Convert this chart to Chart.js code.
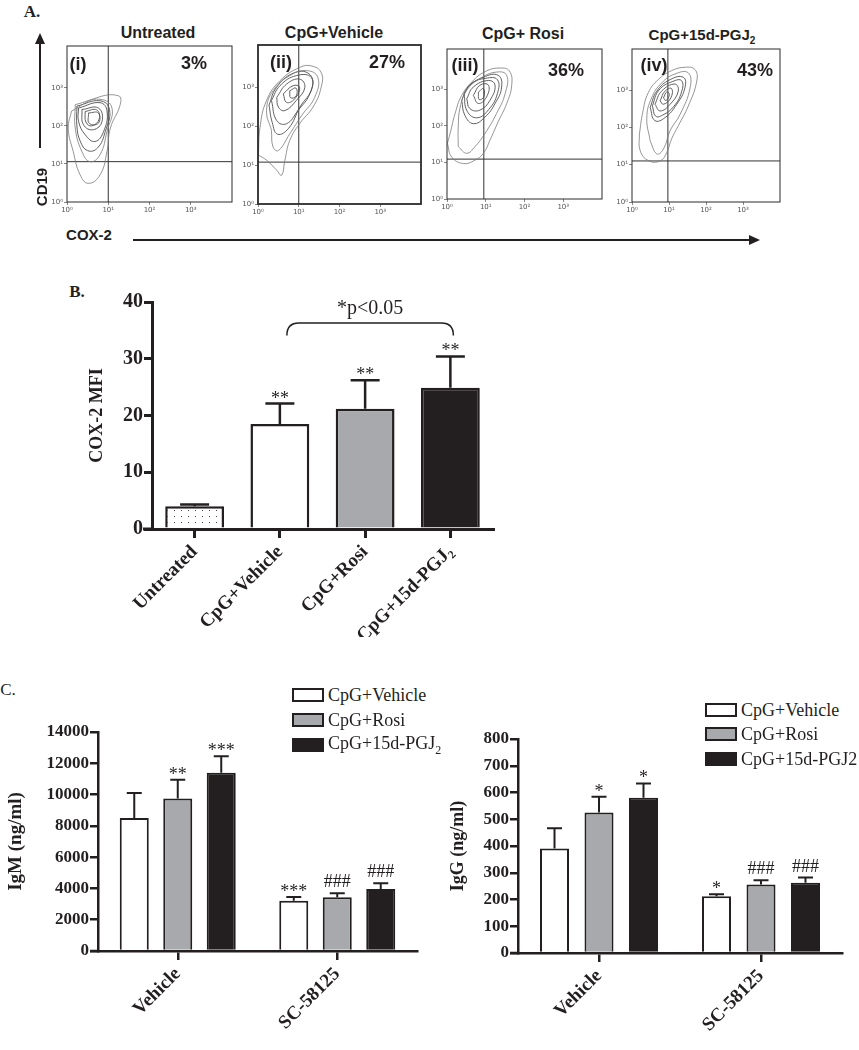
<!DOCTYPE html>
<html lang="en">
<head>
<meta charset="UTF-8">
<title>COX-2 expression and antibody production</title>
<script src="https://cdn.jsdelivr.net/npm/chart.js"></script>
<style>
    body { margin: 0; width: 859px; height: 1050px; position: relative; background: #fff; overflow: hidden; }
    canvas { position: absolute; }
    .t { position: absolute; transform: translate(-50%, -50%); white-space: nowrap; line-height: 1; color: #231f20; }
    .sans { font-family: "Liberation Sans", Arial, sans-serif; font-weight: bold; }
    .serif { font-family: "Liberation Serif", "Times New Roman", serif; }
    .key { position: absolute; width: 28px; height: 10px; border: 2px solid #231f20; }
    .keytext { position: absolute; font-family: "Liberation Serif", serif; font-size: 18px; line-height: 1; transform: translateY(-50%); color: #231f20; white-space: nowrap; }
    .arrow-v { position: absolute; left: 39px; top: 42px; width: 2px; height: 106px; background: #231f20; }
    .head-up { position: absolute; left: 35px; top: 33px; border-left: 5px solid transparent; border-right: 5px solid transparent; border-bottom: 11px solid #231f20; }
    .arrow-h { position: absolute; left: 133px; top: 239px; width: 618px; height: 2px; background: #231f20; }
    .head-right { position: absolute; left: 749px; top: 235px; border-top: 5px solid transparent; border-bottom: 5px solid transparent; border-left: 11px solid #231f20; }
</style>
</head>
<body>

<!-- panel A -->
<div class="t serif" style="left:32px;top:11px;font-size:17px;font-weight:bold;">A.</div>
<div class="t sans" style="left:158px;top:33px;font-size:16px;">Untreated</div>
<div class="t sans" style="left:334px;top:33px;font-size:16px;">CpG+Vehicle</div>
<div class="t sans" style="left:523px;top:34px;font-size:16px;">CpG+ Rosi</div>
<div class="t sans" style="left:702px;top:36px;font-size:15px;">CpG+15d-PGJ<sub style="font-size:10px;">2</sub></div>

<canvas id="flow1" width="194" height="180" style="left:42px;top:40px;"></canvas>
<canvas id="flow2" width="192" height="183" style="left:233px;top:39px;"></canvas>
<canvas id="flow3" width="184" height="174" style="left:422px;top:43px;"></canvas>
<canvas id="flow4" width="177" height="177" style="left:607px;top:43px;"></canvas>

<div class="t sans" style="left:78px;top:64px;font-size:18px;">(i)</div>
<div class="t sans" style="left:194px;top:63px;font-size:18px;">3%</div>
<div class="t sans" style="left:281px;top:62px;font-size:18px;">(ii)</div>
<div class="t sans" style="left:387px;top:62px;font-size:18px;">27%</div>
<div class="t sans" style="left:465px;top:65px;font-size:18px;">(iii)</div>
<div class="t sans" style="left:566px;top:70px;font-size:18px;">36%</div>
<div class="t sans" style="left:654px;top:65px;font-size:18px;">(iv)</div>
<div class="t sans" style="left:755px;top:70px;font-size:18px;">43%</div>

<div class="arrow-v"></div><div class="head-up"></div>
<div class="t sans" style="left:41px;top:187px;font-size:15px;transform:translate(-50%,-50%) rotate(-90deg);">CD19</div>
<div class="t sans" style="left:89px;top:234px;font-size:15px;">COX-2</div>
<div class="arrow-h"></div><div class="head-right"></div>

<!-- panel B -->
<div class="t serif" style="left:77px;top:291px;font-size:17px;font-weight:bold;">B.</div>
<canvas id="mfi" width="411" height="352" style="left:87px;top:285px;"></canvas>

<!-- panel C -->
<div class="t serif" style="left:8px;top:689px;font-size:17px;">C.</div>
<canvas id="igm" width="417" height="311" style="left:5px;top:720px;"></canvas>
<canvas id="igg" width="399" height="306" style="left:448px;top:727px;"></canvas>

<div class="key" style="left:292px;top:688px;background:#fff;"></div>
<div class="keytext" style="left:328px;top:695px;">CpG+Vehicle</div>
<div class="key" style="left:292px;top:713px;background:#a7a9ac;"></div>
<div class="keytext" style="left:328px;top:720px;">CpG+Rosi</div>
<div class="key" style="left:292px;top:738px;background:#231f20;"></div>
<div class="keytext" style="left:328px;top:745px;">CpG+15d-PGJ<sub style="font-size:12px;">2</sub></div>

<div class="key" style="left:705px;top:703px;background:#fff;"></div>
<div class="keytext" style="left:741px;top:710px;">CpG+Vehicle</div>
<div class="key" style="left:705px;top:727px;background:#a7a9ac;"></div>
<div class="keytext" style="left:741px;top:734px;">CpG+Rosi</div>
<div class="key" style="left:705px;top:752px;background:#231f20;"></div>
<div class="keytext" style="left:741px;top:759px;">CpG+15d-PGJ2</div>

<script>
    // ---- flow cytometry (log10 decades: x = COX-2, y = CD19) ----
    const decadeTicks = [0, 1, 2, 3];
    const flowXMax = 4;
    const flowYMax = 4.1;
    const gateX = [1.0, 1.0, 0.95, 0.97];
    const gateY = [1.06, 1.08, 1.09, 1.1];

    const contours1 = [
        [[0.11,2.39],[0.72,2.74],[1.25,2.79],[1.29,2.56],[1.05,1.94],[0.97,1.33],[0.80,0.71],[0.52,0.49],[0.32,0.71],[0.15,1.33],[0.03,1.94]],
        [[0.20,2.56],[0.80,2.70],[1.09,2.47],[0.97,1.86],[0.80,1.24],[0.56,1.06],[0.36,1.33],[0.20,1.94]],
        [[0.24,2.52],[0.80,2.66],[1.03,2.43],[0.93,1.86],[0.74,1.42],[0.50,1.35],[0.32,1.60],[0.24,2.00]],
        [[0.28,2.47],[0.80,2.61],[0.97,2.39],[0.89,1.86],[0.68,1.59],[0.44,1.77],[0.28,2.12]],
        [[0.36,2.43],[0.76,2.47],[0.85,2.12],[0.64,1.90],[0.40,2.03]],
        [[0.44,2.38],[0.72,2.42],[0.78,2.18],[0.60,2.00],[0.46,2.10]],
        [[0.52,2.34],[0.76,2.34],[0.76,2.07],[0.54,2.07]]
    ];
    const contours2 = [
        [[0.01,1.26],[0.05,1.98],[0.21,2.67],[0.54,3.18],[1.02,3.52],[1.31,3.56],[1.55,3.39],[1.55,3.01],[1.35,2.50],[1.02,2.07],[0.78,1.64],[0.66,1.13],[0.58,0.74],[0.46,0.87],[0.21,1.13]],
        [[0.33,1.90],[0.21,2.41],[0.37,2.92],[0.78,3.31],[1.19,3.44],[1.47,3.26],[1.39,2.75],[1.07,2.28],[0.78,1.81],[0.50,1.38],[0.37,1.47]],
        [[0.27,2.55],[0.45,3.00],[0.86,3.37],[1.25,3.36],[1.33,3.00],[1.03,2.50],[0.75,1.95],[0.48,1.80],[0.35,2.10]],
        [[0.33,2.67],[0.54,3.05],[0.94,3.31],[1.31,3.26],[1.27,2.84],[0.98,2.41],[0.70,2.07],[0.46,2.15]],
        [[0.46,2.75],[0.70,3.09],[1.02,3.22],[1.15,3.01],[0.94,2.67],[0.66,2.41],[0.50,2.50]],
        [[0.62,2.84],[0.86,3.05],[1.02,3.01],[0.90,2.71],[0.70,2.62]],
        [[0.78,2.92],[0.93,2.99],[0.94,2.79],[0.80,2.74]]
    ];
    const contours3 = [
        [[0.01,1.52],[0.12,1.15],[0.42,0.97],[0.72,1.06],[0.94,1.25],[1.11,1.61],[1.32,2.11],[1.54,2.61],[1.67,3.11],[1.61,3.50],[1.37,3.58],[1.02,3.50],[0.68,3.24],[0.38,2.83],[0.21,2.34],[0.08,1.79]],
        [[0.29,1.43],[0.51,1.25],[0.72,1.43],[0.98,1.79],[1.28,2.34],[1.50,2.88],[1.54,3.38],[1.28,3.47],[0.85,3.29],[0.51,2.97],[0.34,2.51],[0.29,1.97]],
        [[0.38,2.70],[0.55,3.06],[0.94,3.33],[1.32,3.38],[1.41,3.06],[1.24,2.61],[0.98,2.24],[0.68,2.06],[0.46,2.29]],
        [[0.44,2.88],[0.62,3.15],[1.00,3.30],[1.30,3.26],[1.30,2.88],[1.08,2.45],[0.78,2.22],[0.52,2.40]],
        [[0.51,2.74],[0.68,3.06],[1.07,3.24],[1.24,3.11],[1.11,2.70],[0.85,2.43],[0.59,2.47]],
        [[0.68,2.83],[0.85,3.11],[1.07,3.11],[1.02,2.79],[0.81,2.61]],
        [[0.81,2.92],[0.94,3.02],[0.95,2.79],[0.83,2.72]]
    ];
    const contours4 = [
        [[0.20,1.82],[0.22,1.38],[0.44,1.11],[0.76,1.10],[0.94,1.33],[1.07,1.69],[1.25,2.04],[1.52,2.57],[1.75,3.24],[1.70,3.55],[1.43,3.61],[1.07,3.52],[0.71,3.28],[0.44,2.93],[0.29,2.40]],
        [[0.49,1.64],[0.67,1.29],[0.85,1.42],[1.03,1.91],[1.30,2.35],[1.57,3.06],[1.52,3.46],[1.16,3.43],[0.80,3.19],[0.53,2.79],[0.40,2.26]],
        [[0.49,2.53],[0.67,2.97],[1.03,3.28],[1.39,3.34],[1.43,3.06],[1.21,2.62],[0.89,2.26],[0.62,2.18]],
        [[0.55,2.58],[0.73,3.00],[1.10,3.23],[1.34,3.25],[1.34,2.95],[1.12,2.55],[0.83,2.33],[0.64,2.30]],
        [[0.62,2.62],[0.80,2.97],[1.16,3.16],[1.25,2.97],[1.03,2.62],[0.76,2.44]],
        [[0.76,2.71],[0.89,2.97],[1.07,3.04],[1.05,2.79],[0.85,2.62]],
        [[0.85,2.79],[0.94,2.95],[1.01,2.88],[0.92,2.72]]
    ];

    // ---- panel B: COX-2 MFI ----
    const mfiLabels = ['Untreated', 'CpG+Vehicle', 'CpG+Rosi', 'CpG+15d-PGJ\u2082'];
    const mfiMean = [4.0, 18.5, 21.2, 24.9];
    const mfiErrTop = [4.3, 22.1, 26.2, 30.4];
    const mfiMarks = ['', '**', '**', '**'];
    const bracketSpan = [1, 3];
    const bracketTop = 36.3;
    const bracketFoot = 34.1;
    const bracketLabelAt = 38.8;
    const bracketLabel = '*p<0.05';

    // ---- panel C: IgM / IgG ----
    const igGroups = ['Vehicle', 'SC-58125'];
    const seriesNames = ['CpG+Vehicle', 'CpG+Rosi', 'CpG+15d-PGJ2'];
    const igmVehicle = [8500, 3220];
    const igmVehicleErr = [10100, 3450];
    const igmRosi = [9750, 3430];
    const igmRosiErr = [10950, 3690];
    const igmPgj = [11400, 3960];
    const igmPgjErr = [12450, 4330];
    const igmMarks = [['', '***'], ['**', '###'], ['***', '###']];
    const iggVehicle = [391, 212];
    const iggVehicleErr = [466, 220];
    const iggRosi = [525, 256];
    const iggRosiErr = [584, 272];
    const iggPgj = [580, 263];
    const iggPgjErr = [634, 282];
    const iggMarks = [['', '*'], ['*', '###'], ['*', '###']];

    const ink = '#231f20';
    const grey = '#a7a9ac';
    const serif = '"Liberation Serif", "Times New Roman", serif';
    const sup = ['\u2070', '\u00b9', '\u00b2', '\u00b3'];

    Chart.defaults.animation = false;
    Chart.defaults.plugins.legend.display = false;
    Chart.defaults.plugins.tooltip.enabled = false;

    const frame = {
        id: 'frame',
        afterDraw(chart, args, opts) {
            const a = chart.chartArea, ctx = chart.ctx;
            ctx.save();
            ctx.strokeStyle = '#2b2b2b';
            ctx.lineWidth = opts.width;
            ctx.strokeRect(a.left, a.top, a.right - a.left, a.bottom - a.top);
            ctx.restore();
        }
    };

    function flowPlot(id, contours, gx, gy, frameWidth) {
        const datasets = contours.map((c, i) => ({
            data: c.concat([c[0]]).map(p => ({ x: p[0], y: p[1] })),
            showLine: true,
            tension: 0.45,
            pointRadius: 0,
            borderWidth: i < 2 ? 0.8 : 0.9,
            borderColor: i < 2 ? '#7a7a7a' : '#505050'
        }));
        datasets.push({ data: [{ x: gx, y: 0 }, { x: gx, y: flowYMax }], showLine: true, pointRadius: 0, borderColor: '#333', borderWidth: 1 });
        datasets.push({ data: [{ x: 0, y: gy }, { x: flowXMax, y: gy }], showLine: true, pointRadius: 0, borderColor: '#333', borderWidth: 1 });

        const axis = (fit) => ({
            min: 0,
            afterBuildTicks(s) { s.ticks = decadeTicks.map(v => ({ value: v })); },
            ticks: {
                callback: v => '10' + sup[v],
                font: { family: '"DejaVu Sans", "Liberation Sans"', size: 7 },
                color: '#555',
                padding: 1,
                maxRotation: 0
            },
            grid: { drawOnChartArea: false, tickLength: 3, color: '#888' },
            border: { display: false },
            afterFit: fit
        });

        new Chart(document.getElementById(id), {
            type: 'scatter',
            data: { datasets },
            plugins: [frame],
            options: {
                responsive: false,
                devicePixelRatio: 1,
                layout: { padding: { top: 6, right: 4 } },
                plugins: { frame: { width: frameWidth } },
                scales: {
                    x: Object.assign(axis(s => { s.height = 18; }), { max: flowXMax }),
                    y: Object.assign(axis(s => { s.width = 25; }), { max: flowYMax })
                }
            }
        });
    }

    flowPlot('flow1', contours1, gateX[0], gateY[0], 1);
    flowPlot('flow2', contours2, gateX[1], gateY[1], 1.8);
    flowPlot('flow3', contours3, gateX[2], gateY[2], 1);
    flowPlot('flow4', contours4, gateX[3], gateY[3], 1);

    // error bars and significance marks above each bar
    const errorBars = {
        id: 'errorBars',
        afterDatasetsDraw(chart, args, o) {
            const ctx = chart.ctx, y = chart.scales.y;
            chart.data.datasets.forEach((ds, d) => {
                chart.getDatasetMeta(d).data.forEach((bar, i) => {
                    const top = y.getPixelForValue(ds.errTop[i]);
                    ctx.save();
                    ctx.strokeStyle = ink;
                    ctx.lineWidth = o.width;
                    ctx.beginPath();
                    ctx.moveTo(bar.x, bar.y);
                    ctx.lineTo(bar.x, top);
                    ctx.moveTo(bar.x - o.cap / 2, top);
                    ctx.lineTo(bar.x + o.cap / 2, top);
                    ctx.stroke();
                    const m = ds.marks[i];
                    if (m) {
                        ctx.fillStyle = ink;
                        ctx.font = o.font;
                        ctx.textAlign = 'center';
                        ctx.textBaseline = 'alphabetic';
                        ctx.fillText(m, bar.x, top - (m[0] === '#' ? o.hashGap : o.starGap));
                    }
                    ctx.restore();
                });
            });
        }
    };

    // short piece of x axis sticking out left of the y axis
    const axisStub = {
        id: 'axisStub',
        afterDraw(chart, args, o) {
            const a = chart.chartArea, ctx = chart.ctx;
            ctx.save();
            ctx.strokeStyle = ink;
            ctx.lineWidth = o.width;
            ctx.beginPath();
            ctx.moveTo(a.left - o.len, a.bottom);
            ctx.lineTo(a.left, a.bottom);
            ctx.stroke();
            ctx.restore();
        }
    };

    const bracket = {
        id: 'bracket',
        afterDraw(chart) {
            const meta = chart.getDatasetMeta(0), y = chart.scales.y, ctx = chart.ctx;
            const x1 = meta.data[bracketSpan[0]].x + 7;
            const x2 = meta.data[bracketSpan[1]].x + 3;
            const yt = y.getPixelForValue(bracketTop);
            const yb = y.getPixelForValue(bracketFoot);
            ctx.save();
            ctx.strokeStyle = ink;
            ctx.lineWidth = 1.5;
            ctx.beginPath();
            ctx.moveTo(x1, yb);
            ctx.quadraticCurveTo(x1, yt, x1 + 12, yt);
            ctx.lineTo(x2 - 12, yt);
            ctx.quadraticCurveTo(x2, yt, x2, yb);
            ctx.stroke();
            ctx.font = '20px ' + serif;
            ctx.fillStyle = ink;
            ctx.textAlign = 'center';
            ctx.textBaseline = 'middle';
            ctx.fillText(bracketLabel, (x1 + x2) / 2, y.getPixelForValue(bracketLabelAt));
            ctx.restore();
        }
    };

    function dotPattern() {
        const c = document.createElement('canvas');
        c.width = 7;
        c.height = 6;
        const g = c.getContext('2d');
        g.fillStyle = '#fff';
        g.fillRect(0, 0, 7, 6);
        g.fillStyle = '#444';
        g.fillRect(3, 3, 1, 1);
        return g.createPattern(c, 'repeat');
    }

    function barScales(yMax, step, title, yWidth, xHeight, tickSize, titleSize, xSize, lw) {
        return {
            x: {
                grid: { drawOnChartArea: false, offset: false, tickLength: 9, lineWidth: lw, color: ink },
                border: { width: lw, color: ink },
                ticks: { autoSkip: false, minRotation: 45, maxRotation: 45, padding: 3, color: ink,
                    font: { family: serif, weight: 'bold', size: xSize } },
                afterFit(s) { s.height = xHeight; }
            },
            y: {
                min: 0,
                max: yMax,
                grid: { drawOnChartArea: false, tickLength: 8, lineWidth: lw, color: ink },
                border: { width: lw, color: ink },
                ticks: { stepSize: step, padding: 1, color: ink, callback: v => String(v),
                    font: { family: serif, weight: 'bold', size: tickSize } },
                title: { display: true, text: title, padding: 0, color: ink,
                    font: { family: serif, weight: 'bold', size: titleSize } },
                afterFit(s) { s.width = yWidth; }
            }
        };
    }

    new Chart(document.getElementById('mfi'), {
        type: 'bar',
        data: {
            labels: mfiLabels,
            datasets: [{
                data: mfiMean,
                errTop: mfiErrTop,
                marks: mfiMarks,
                backgroundColor: [dotPattern(), '#ffffff', grey, ink],
                borderColor: ink,
                borderWidth: 2.5,
                barPercentage: 0.69,
                categoryPercentage: 1
            }]
        },
        plugins: [errorBars, axisStub, bracket],
        options: {
            responsive: false,
            devicePixelRatio: 1,
            layout: { padding: { top: 17, right: 5 } },
            plugins: {
                errorBars: { width: 2.5, cap: 29, font: '18px ' + serif, starGap: 0, hashGap: 6 },
                axisStub: { width: 3, len: 9 }
            },
            scales: barScales(40, 10, 'COX-2 MFI', 65, 108, 20, 18, 19, 3)
        }
    });

    function igChart(id, names, vals, errs, marks, yMax, step, title, yWidth, titleSize, catPct, barPct) {
        const fills = ['#ffffff', grey, ink];
        new Chart(document.getElementById(id), {
            type: 'bar',
            data: {
                labels: igGroups,
                datasets: names.map((n, k) => ({
                    label: n,
                    data: vals[k],
                    errTop: errs[k],
                    marks: marks[k],
                    backgroundColor: fills[k],
                    borderColor: ink,
                    borderWidth: 2,
                    categoryPercentage: catPct,
                    barPercentage: barPct
                }))
            },
            plugins: [errorBars, axisStub],
            options: {
                responsive: false,
                devicePixelRatio: 1,
                layout: { padding: { top: 12, right: 5 } },
                plugins: {
                    errorBars: { width: 2, cap: 15, font: '18px ' + serif, starGap: 0, hashGap: 6 },
                    axisStub: { width: 2.5, len: 8 }
                },
                scales: barScales(yMax, step, title, yWidth, 80, 17, titleSize, 19, 2.5)
            }
        });
    }

    igChart('igm', seriesNames,
        [igmVehicle, igmRosi, igmPgj], [igmVehicleErr, igmRosiErr, igmPgjErr], igmMarks,
        14000, 2000, 'IgM (ng/ml)', 93, 19, 0.818, 0.667);
    igChart('igg', seriesNames,
        [iggVehicle, iggRosi, iggPgj], [iggVehicleErr, iggRosiErr, iggPgjErr], iggMarks,
        800, 100, 'IgG (ng/ml)', 70, 18, 0.824, 0.652);
</script>

</body>
</html>
